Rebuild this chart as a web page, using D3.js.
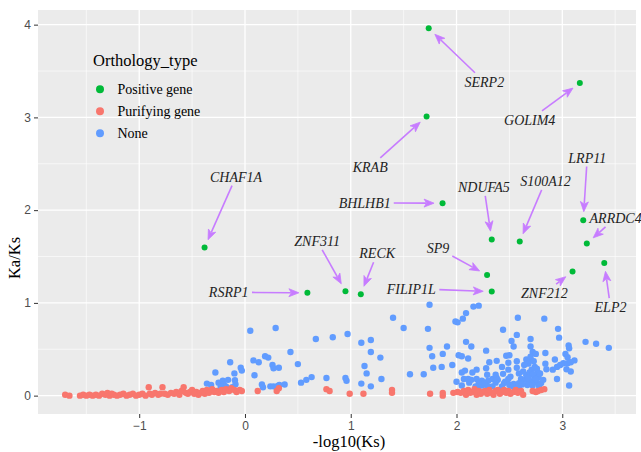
<!DOCTYPE html>
<html><head><meta charset="utf-8">
<script src="https://cdn.jsdelivr.net/npm/d3@7"></script>
<style>body{margin:0;background:#fff}</style>
</head><body><svg id="c" width="641" height="452"></svg>
<script>
// ---------------- DATA ----------------
const typeNames = ["Positive gene", "Purifying gene", "None"];
const typeColors = ["#00BA38", "#F8766D", "#619CFF"];

const positiveGenes = ["SERP2","GOLIM4","KRAB","BHLHB1","NDUFA5","S100A12","LRP11","ARRDC4","CHAF1A","ZNF311","RECK","SP9","FILIP1L","RSRP1","ZNF212","ELP2"];
const positiveX = [1.737, 3.166, 1.717, 1.868, 2.333, 2.598, 3.198, 3.232, -0.382, 0.95, 1.095, 2.289, 2.333, 0.59, 3.097, 3.397];
const positiveY = [3.96, 3.37, 3.01, 2.075, 1.683, 1.661, 1.892, 1.64, 1.597, 1.126, 1.094, 1.30, 1.122, 1.108, 1.338, 1.431];
const labelX = [2.263, 2.692, 1.184, 1.132, 2.259, 2.841, 3.236, 3.504, -0.085, 0.682, 1.250, 1.825, 1.572, -0.154, 2.831, 3.456];
const labelY = [3.384, 2.974, 2.467, 2.079, 2.251, 2.316, 2.567, 1.917, 2.362, 1.669, 1.536, 1.590, 1.154, 1.115, 1.105, 0.954];

const purifyingGenes = [
[-1.70,0.01],[-1.66,0.00],[-1.56,0.00],[-1.53,0.01],[-1.50,0.00],[-1.47,0.01],[-1.44,0.00],[-1.41,0.01],[-1.38,0.00],[-1.35,0.02],
[-1.32,0.01],[-1.30,0.03],[-1.28,0.00],[-1.26,0.02],[-1.24,0.01],[-1.21,0.00],[-1.18,0.01],[-1.15,0.02],[-1.12,0.00],[-1.09,0.01],
[-1.06,0.02],[-1.03,0.00],[-1.00,0.01],[-0.97,0.02],[-0.94,0.00],[-0.91,0.09],[-0.90,0.02],[-0.88,0.01],[-0.85,0.03],[-0.82,0.01],
[-0.80,0.02],[-0.78,0.09],[-0.76,0.02],[-0.73,0.01],[-0.70,0.03],[-0.67,0.02],[-0.65,0.04],[-0.62,0.01],[-0.60,0.05],[-0.58,0.09],
[-0.56,0.03],[-0.54,0.02],[-0.52,0.04],[-0.50,0.06],[-0.48,0.02],[-0.46,0.04],[-0.44,0.01],[-0.42,0.03],[-0.40,0.05],[-0.38,0.02],
[-0.36,0.06],[-0.34,0.03],[-0.31,0.07],[-0.29,0.04],[-0.27,0.05],[-0.25,0.03],[-0.22,0.06],[-0.20,0.04],[-0.18,0.07],[-0.15,0.05],
[-0.13,0.08],[-0.10,0.06],[-0.08,0.04],[-0.05,0.06],[-0.03,0.05],[0.12,0.05],[0.30,0.05],[0.32,0.08],[0.77,0.07],[0.80,0.05],
[0.99,0.02],[1.12,0.02],[1.39,0.06],[1.39,0.03],[1.75,0.02],[1.87,0.03],[1.87,0.00],[1.97,0.03],[2.01,0.04],[2.04,0.03],
[2.07,0.05],[2.09,0.01],[2.11,0.06],[2.13,0.03],[2.15,0.04],[2.17,0.07],[2.19,0.01],[2.21,0.05],[2.23,0.02],[2.25,0.04],
[2.27,0.05],[2.29,0.02],[2.31,0.06],[2.33,0.03],[2.35,0.01],[2.37,0.05],[2.39,0.06],[2.41,0.02],[2.43,0.04],[2.45,0.06],
[2.47,0.03],[2.49,0.05],[2.51,0.02],[2.54,0.04],[2.56,0.06],[2.58,0.03],[2.61,0.05],[2.63,0.01],[2.72,0.05],[2.75,0.04],
[2.77,0.05],[2.80,0.06],[2.83,0.07]
];

const noneGenes = [
[0.05,0.70],[0.29,0.73],[0.67,0.61],[0.43,0.47],[0.50,0.34],[-0.14,0.36],[0.08,0.38],[0.13,0.36],[0.19,0.425],[0.22,0.41],
[0.26,0.33],[0.27,0.295],[0.32,0.30],[-0.04,0.30],[-0.03,0.27],[-0.10,0.24],[-0.28,0.25],[0.09,0.22],[-0.36,0.13],[-0.32,0.115],
[-0.25,0.14],[-0.21,0.16],[-0.20,0.12],[-0.16,0.17],[-0.095,0.166],[-0.09,0.123],[-0.12,0.09],[-0.18,0.10],[-0.23,0.094],[0.16,0.12],
[0.17,0.09],[0.24,0.10],[0.27,0.10],[0.31,0.105],[0.325,0.115],[0.375,0.12],[0.53,0.14],[0.58,0.17],[0.63,0.20],
[0.83,0.63],[0.97,0.665],[1.10,0.57],[1.19,0.60],[1.19,0.47],[1.28,0.41],[1.13,0.32],[1.15,0.24],[1.10,0.13],[1.19,0.10],
[1.29,0.18],[0.77,0.19],[0.95,0.19],[0.96,0.16],[1.40,0.84],[1.50,0.73],[1.745,0.98],[1.73,0.72],[1.745,0.515],[1.77,0.425],
[1.78,0.30],[1.56,0.23],[1.69,0.23],[1.91,0.53],[1.87,0.45],[1.96,0.33],[1.86,0.31],[2.00,0.15],
[2.16,0.96],[2.21,0.97],[2.09,0.89],[2.06,0.83],[1.99,0.80],[2.01,0.79],[2.09,0.58],[2.14,0.53],[2.28,0.485],[2.02,0.435],
[2.05,0.425],[2.11,0.40],[2.31,0.36],[2.38,0.375],[2.05,0.25],[2.08,0.27],[2.15,0.25],[2.19,0.28],[2.28,0.295],[2.07,0.18],
[2.11,0.18],[2.14,0.17],[2.19,0.18],[2.24,0.16],[2.34,0.18],[2.38,0.19],[2.21,0.105],[2.24,0.11],[2.29,0.105],
[2.44,0.71],[2.57,0.655],[2.58,0.84],[2.52,0.59],[2.54,0.53],[2.70,0.53],[2.72,0.47],[2.75,0.45],[2.47,0.43],[2.50,0.435],
[2.49,0.355],[2.84,0.46],[2.66,0.39],[2.70,0.39],[2.68,0.345],[2.43,0.31],[2.44,0.235],[2.37,0.225],[2.29,0.225],[2.74,0.31],
[2.765,0.255],[2.71,0.28],[2.735,0.21],[2.775,0.20],[2.84,0.345],[2.85,0.285],[2.57,0.37],[2.57,0.30],[2.59,0.24],[2.61,0.18],
[2.49,0.28],[2.51,0.205],[2.49,0.18],[2.46,0.15],[2.39,0.17],[2.37,0.14],[2.30,0.16],[2.26,0.14],[2.21,0.135],[2.12,0.14],
[2.05,0.11],[2.65,0.17],[2.69,0.16],[2.73,0.15],[2.77,0.135],[2.80,0.135],[2.82,0.17],[2.67,0.115],[2.72,0.11],[2.78,0.105],
[2.45,0.135],[2.50,0.115],[2.54,0.125],[2.59,0.135],[2.43,0.10],[2.53,0.10],[2.59,0.10],[2.34,0.10],[2.18,0.10],
[2.66,0.22],[2.69,0.25],[2.72,0.23],[2.75,0.18],[2.63,0.26],[2.68,0.19],[2.76,0.29],[2.79,0.24],[2.70,0.42],[2.73,0.37],
[2.62,0.12],[2.64,0.33],[2.70,0.61],[2.83,0.83],
[2.96,0.72],[2.97,0.625],[2.93,0.39],[2.95,0.31],[2.98,0.33],[3.01,0.35],[3.05,0.35],[2.91,0.28],[2.95,0.18],
[3.22,0.58],[3.32,0.56],[3.44,0.515],[3.06,0.54],[3.065,0.51],[3.03,0.45],[3.05,0.415],[3.08,0.36],[3.115,0.38],[3.04,0.285],
[3.08,0.26],[3.065,0.11]
];

const xTicks = [-1, 0, 1, 2, 3];
const yTicks = [0, 1, 2, 3, 4];
const xTitle = "-log10(Ks)";
const yTitle = "Ka/Ks";
const legendTitle = "Orthology_type";

// ---------------- LAYOUT ----------------
const W = 641, H = 452;
const panel = {l: 38, r: 636, t: 10, b: 414};
const svg = d3.select("#c");

const allX = noneGenes.map(d=>d[0]).concat(purifyingGenes.map(d=>d[0]), positiveX);
const allY = noneGenes.map(d=>d[1]).concat(purifyingGenes.map(d=>d[1]), positiveY);
const [xmin, xmax] = d3.extent(allX), [ymin, ymax] = d3.extent(allY);
const xe = (xmax - xmin) * 0.05, ye = (ymax - ymin) * 0.05;
const x = d3.scaleLinear().domain([xmin - xe, xmax + xe]).range([panel.l, panel.r]);
const y = d3.scaleLinear().domain([ymin - ye, ymax + ye]).range([panel.b, panel.t]);

// panel background
svg.append("rect").attr("x", panel.l).attr("y", panel.t)
  .attr("width", panel.r - panel.l).attr("height", panel.b - panel.t).attr("fill", "#EBEBEB");

const grid = svg.append("g");
const minorX = xTicks.map(v => v - 0.5).concat([xTicks[xTicks.length-1] + 0.5]).filter(v => v > x.domain()[0] && v < x.domain()[1]);
const minorY = yTicks.slice(0, -1).map(v => v + 0.5);
grid.selectAll(".mx").data(minorX).join("line")
  .attr("x1", d=>x(d)).attr("x2", d=>x(d)).attr("y1", panel.t).attr("y2", panel.b)
  .attr("stroke", "#fff").attr("stroke-width", 0.6);
grid.selectAll(".my").data(minorY).join("line")
  .attr("y1", d=>y(d)).attr("y2", d=>y(d)).attr("x1", panel.l).attr("x2", panel.r)
  .attr("stroke", "#fff").attr("stroke-width", 0.6);
grid.selectAll(".Mx").data(xTicks).join("line")
  .attr("x1", d=>x(d)).attr("x2", d=>x(d)).attr("y1", panel.t).attr("y2", panel.b)
  .attr("stroke", "#fff").attr("stroke-width", 1.3);
grid.selectAll(".My").data(yTicks).join("line")
  .attr("y1", d=>y(d)).attr("y2", d=>y(d)).attr("x1", panel.l).attr("x2", panel.r)
  .attr("stroke", "#fff").attr("stroke-width", 1.3);

// axes
const xAxis = svg.append("g").attr("transform", `translate(0,${panel.b})`)
  .call(d3.axisBottom(x).tickValues(xTicks).tickSize(4).tickPadding(3).tickFormat(d3.format("d")));
const yAxis = svg.append("g").attr("transform", `translate(${panel.l},0)`)
  .call(d3.axisLeft(y).tickValues(yTicks).tickSize(4).tickPadding(3).tickFormat(d3.format("d")));
[xAxis, yAxis].forEach(a => {
  a.select(".domain").remove();
  a.selectAll(".tick line").attr("stroke", "#333").attr("stroke-width", 1);
  a.selectAll(".tick text").attr("fill", "#4D4D4D").style("font-family", "Liberation Sans, Arial, sans-serif").style("font-size", "12px");
});
xAxis.selectAll(".tick text").text(d => d < 0 ? "\u2212" + Math.abs(d) : d);

// axis titles
svg.append("text").attr("x", 349).attr("y", 447).attr("text-anchor", "middle")
  .style("font-family", "Liberation Serif, Times New Roman, serif").style("font-size", "16.5px").attr("fill", "#000").text(xTitle);
svg.append("text").attr("transform", "translate(20,258) rotate(-90)").attr("text-anchor", "middle")
  .style("font-family", "Liberation Serif, Times New Roman, serif").style("font-size", "16.5px").attr("fill", "#000").text(yTitle);

// points
const pts = svg.append("g");
pts.selectAll(".none").data(noneGenes).join("circle")
  .attr("cx", d=>x(d[0])).attr("cy", d=>y(d[1])).attr("r", 3.2).attr("fill", typeColors[2]);
pts.selectAll(".pur").data(purifyingGenes).join("circle")
  .attr("cx", d=>x(d[0])).attr("cy", d=>y(d[1])).attr("r", 3.2).attr("fill", typeColors[1]);
pts.selectAll(".pos").data(positiveX).join("circle")
  .attr("cx", (d,i)=>x(positiveX[i])).attr("cy", (d,i)=>y(positiveY[i])).attr("r", 3).attr("fill", typeColors[0]);

// labels + arrows
const arrowColor = "#C77CFF";
const lab = svg.append("g");
const ann = lab.append("g");
positiveGenes.forEach((name, i) => {
  const cx = x(labelX[i]), cy = y(labelY[i]);
  const t = lab.append("text").attr("x", cx).attr("y", cy + 5).attr("text-anchor", "middle")
    .style("font-family", "Liberation Serif, Times New Roman, serif").style("font-style", "italic")
    .style("font-size", "14px").attr("fill", "#222").text(name);
  const bb = t.node().getBBox();
  const hw = bb.width / 2 + 3, hh = 6 + 3;
  const px = x(positiveX[i]), py = y(positiveY[i]);
  const dx = px - cx, dy = py - cy;
  const tt = Math.min(dx !== 0 ? hw / Math.abs(dx) : Infinity, dy !== 0 ? hh / Math.abs(dy) : Infinity);
  const sx = cx + tt * dx, sy = cy + tt * dy;
  const len = Math.hypot(px - sx, py - sy);
  const ux = (px - sx) / len, uy = (py - sy) / len;
  const ex = px - ux * 8.5, ey = py - uy * 8.5;
  const head = 10, hwid = 4;
  const bx = ex - ux * head, by = ey - uy * head;
  ann.append("line").attr("x1", sx).attr("y1", sy).attr("x2", bx + ux*2).attr("y2", by + uy*2)
    .attr("stroke", arrowColor).attr("stroke-width", 1.6);
  ann.append("path")
    .attr("d", `M${ex},${ey} L${bx - uy*hwid},${by + ux*hwid} L${bx + ux*2.5},${by + uy*2.5} L${bx + uy*hwid},${by - ux*hwid} Z`)
    .attr("fill", arrowColor).attr("stroke", arrowColor).attr("stroke-width", 0.8).attr("stroke-linejoin", "round");
});

// legend
const lg = svg.append("g");
lg.append("text").attr("x", 93).attr("y", 66)
  .style("font-family", "Liberation Serif, Times New Roman, serif").style("font-size", "16.5px").attr("fill", "#000").text(legendTitle);
typeNames.forEach((n, i) => {
  const cy = 89.3 + i * 22;
  lg.append("circle").attr("cx", 100).attr("cy", cy).attr("r", 4).attr("fill", typeColors[i]);
  lg.append("text").attr("x", 117.5).attr("y", cy + 4.5)
    .style("font-family", "Liberation Serif, Times New Roman, serif").style("font-size", "14px").attr("fill", "#000").text(n);
});
</script></body></html>
